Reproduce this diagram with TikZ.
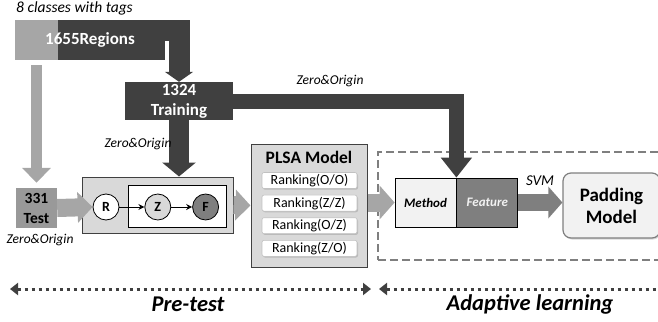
\documentclass[tikz,border=0pt]{standalone}
\usepackage{fontspec}
\setmainfont{Carlito}
\usepackage{tikz}
\usetikzlibrary{positioning}
\usetikzlibrary{arrows.meta,shadows}

\definecolor{dgray}{HTML}{404040}
\definecolor{mgray}{HTML}{7F7F7F}
\definecolor{lgray}{HTML}{A6A6A6}
\definecolor{pgray}{HTML}{D9D9D9}
\definecolor{wgray}{HTML}{F2F2F2}

\begin{document}
\begin{tikzpicture}[x=1pt, y=-1pt, node distance=6pt,
	dark box/.style={rectangle,fill=dgray,text=white,inner sep=0pt,align=center,
		font=\fontsize{17}{20}\selectfont\bfseries},
	test box/.style={rectangle,fill=lgray!92!black,text=black,inner sep=0pt,align=center,
		minimum width=41pt,minimum height=40pt,font=\fontsize{15.5}{20}\selectfont\bfseries},
	panel/.style={rectangle,draw=dgray,fill=pgray,line width=1pt},
	var node/.style={circle,draw=black,line width=0.8pt,minimum size=26pt,inner sep=0pt,
		font=\fontsize{14}{16}\selectfont\bfseries},
	rank box/.style={rectangle,rounded corners=2pt,draw=lgray!70,fill=white,line width=0.6pt,
		minimum width=95pt,minimum height=16pt,inner sep=0pt,font=\fontsize{14}{16}\selectfont,
		drop shadow={shadow xshift=1pt,shadow yshift=-1.2pt,opacity=0.35}},
	half box/.style={rectangle,draw=black,line width=0.8pt,minimum width=61pt,minimum height=49pt,
		inner sep=0pt,font=\fontsize{13}{16}\selectfont\bfseries\itshape},
	italic label/.style={inner sep=0pt,font=\fontsize{13.5}{16}\selectfont\itshape},
	phase label/.style={inner sep=0pt,font=\fontsize{22.5}{26}\selectfont\bfseries\itshape},
	dark arrow/.style={draw=dgray},
	light arrow/.style={draw=lgray},
	period arrow/.style={draw=dgray,line width=3pt,dash pattern=on 3pt off 4pt,
		{Triangle[width=12pt,length=8pt]}-{Triangle[width=12pt,length=8pt]}}]
	\useasboundingbox (0,0) rectangle (658,321);

	% adaptive learning zone
	\node[draw=mgray,line width=2.2pt,dash pattern=on 8pt off 4pt,minimum width=284pt,minimum height=108pt]
		(zone) at (520,206) {};

	% data
	\node[italic label,anchor=west,font=\fontsize{15.5}{18}\selectfont\itshape] (tags) at (16,8) {8 classes with tags};
	\node[dark box,minimum width=150pt,minimum height=40pt,
		path picture={\fill[lgray] (path picture bounding box.north west) rectangle ([xshift=43pt]path picture bounding box.south west);}]
		(regions) at (90,40) {1655Regions};
	\node[dark box,minimum width=108pt,minimum height=38pt] (training) at (179,101) {1324\\Training};
	\node[test box] (test) at (36.5,208) {331\\Test};

	% graphical model
	\node[panel,minimum width=151pt,minimum height=56pt] (rzf) at (157.5,205) {};
	\node[draw=black,fill=white,line width=0.8pt,minimum width=98pt,minimum height=42pt] (zfbox) at (177,206) {};
	\node[var node,fill=white] (r) at (106,207) {R};
	\node[var node,fill=pgray,right=25pt of r] (z) {Z};
	\node[var node,fill=mgray,right=21pt of z] (f) {F};
	\draw[-{Stealth[length=6pt,width=6pt]},line width=1pt] (r) -- (z);
	\draw[-{Stealth[length=6pt,width=6pt]},line width=1pt] (z) -- (f);

	% plsa
	\node[panel,minimum width=116pt,minimum height=123pt] (plsa) at (309,205.5) {};
	\node[inner sep=0pt,font=\fontsize{17.5}{20}\selectfont\bfseries] (plsatitle) at (309,157) {PLSA Model};
	\node[rank box] (rank1) at (309.5,180.5) {Ranking(O/O)};
	\node[rank box,below=of rank1] (rank2) {Ranking(Z/Z)};
	\node[rank box,below=of rank2] (rank3) {Ranking(O/Z)};
	\node[rank box,below=of rank3] (rank4) {Ranking(Z/O)};

	% svm part
	\node[half box,fill=wgray] (method) at (425.5,202.5) {Method};
	\node[half box,fill=mgray,text=wgray,right=0pt of method] (feature) {Feature};
	\node[rectangle,rounded corners=8pt,draw=mgray,fill=wgray,line width=1.2pt,minimum width=97pt,
		minimum height=65pt,align=center,font=\fontsize{19}{22}\selectfont\bfseries,
		drop shadow={shadow xshift=1pt,shadow yshift=-1.5pt,opacity=0.3}]
		(padding) at (611.5,205.5) {Padding\\Model};

	% block arrows
	\draw[dark arrow,line width=21pt,-{Triangle[width=28pt,length=10pt]}]
		([xshift=-5pt,yshift=-11pt]regions.north east) -| (training.north);
	\draw[dark arrow,line width=20pt,-{Triangle[width=33pt,length=14pt]}]
		(training.south) -- (training.south |- rzf.north);
	\draw[dark arrow,line width=15pt,-{Triangle[width=30pt,length=20pt]}]
		(training.east) -| (feature.north west);
	\draw[light arrow,line width=11pt,shorten <=5pt,shorten >=5pt,-{Triangle[width=28pt,length=15pt]}]
		(test.north |- regions.south) -- (test.north);
	\draw[light arrow,line width=18pt,-{Triangle[width=30pt,length=15pt]}] (test.east) -- (r.west);
	\draw[light arrow,line width=18pt,-{Triangle[width=30pt,length=15pt]}] (rzf.east) -- (plsa.west);
	\draw[light arrow,line width=18pt,-{Triangle[width=33pt,length=15pt]}] (plsa.east |- method.west) -- (method.west);
	\draw[draw=mgray,line width=17pt,-{Triangle[width=31pt,length=14pt]}] (feature.east) -- (feature.east -| padding.west);

	% labels
	\node[italic label] (zo1) at (138,144) {Zero\&Origin};
	\node[italic label] (zo2) at (330,81) {Zero\&Origin};
	\node[italic label] (zo3) at (40,240) {Zero\&Origin};
	\node[italic label,font=\fontsize{15}{18}\selectfont\itshape] (svm) at (540,181) {SVM};

	% phases
	\coordinate (pretestL) at (10,289);
	\coordinate (pretestR) at (371,289);
	\coordinate (adaptL) at (379,289);
	\coordinate (adaptR) at (672,289);
	\draw[period arrow] (pretestL) -- (pretestR);
	\draw[period arrow] (adaptL) -- (adaptR);
	\node[phase label] (pretest) at (188,304) {Pre-test};
	\node[phase label] (adaptive) at (530,304) {Adaptive learning};
\end{tikzpicture}
\end{document}
